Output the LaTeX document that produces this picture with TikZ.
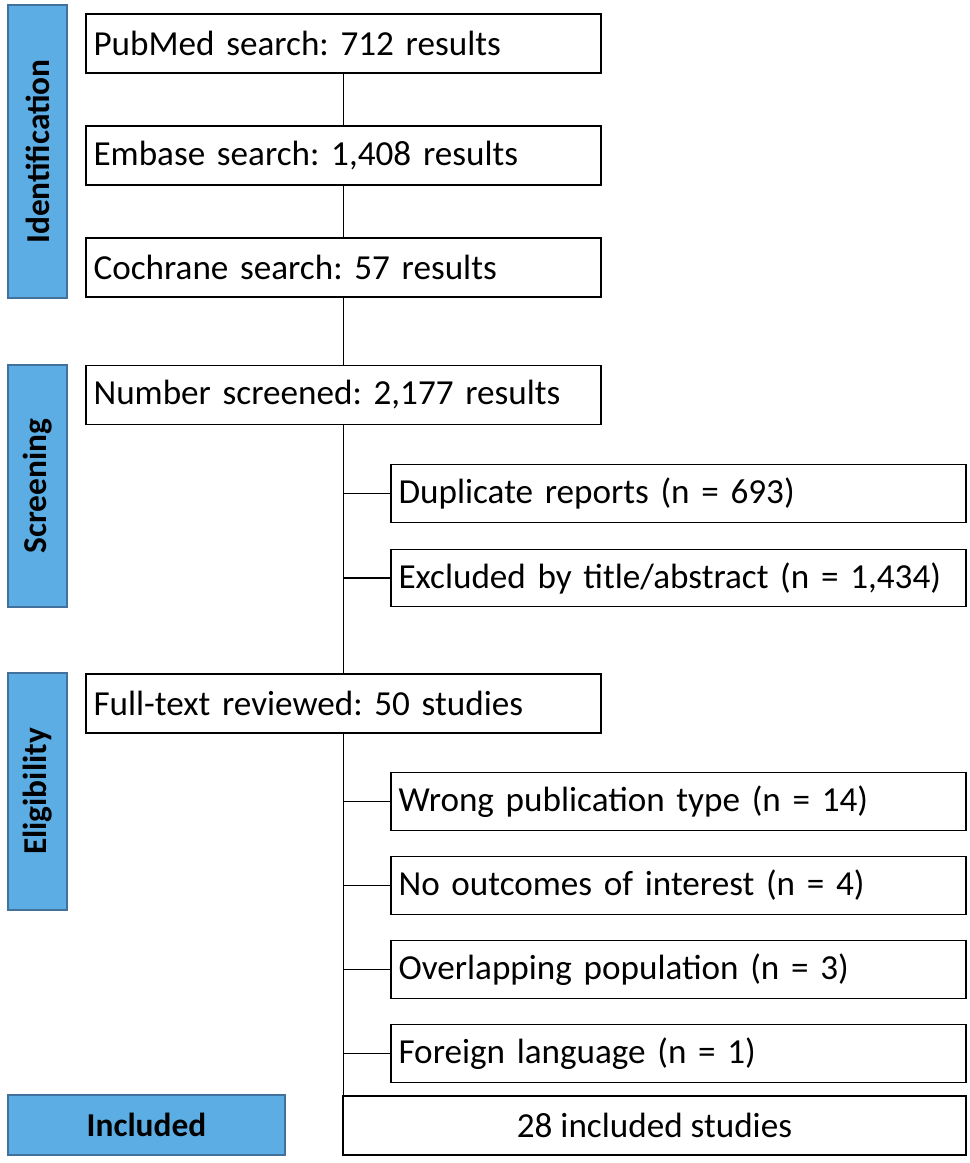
\documentclass[tikz,border=0pt]{standalone}
\usepackage{fontspec}
\setmainfont{Carlito}
\usetikzlibrary{positioning}
\definecolor{barfill}{RGB}{91,173,227}
\definecolor{bardraw}{RGB}{65,113,156}
\tikzset{
  mainbox/.style={draw,thick,minimum width=10.3cm,minimum height=1.18cm,text width=10cm,align=left,inner sep=0.15cm,font=\fontsize{20}{24}\selectfont},
  sidebox/.style={draw,thick,minimum width=11.5cm,minimum height=1.15cm,text width=11.2cm,align=left,inner sep=0.15cm,font=\fontsize{20}{24}\selectfont},
  stagebar/.style={draw=bardraw,thick,fill=barfill,font=\fontsize{19}{23}\selectfont\bfseries},
  link/.style={draw,thick,-}
}
\begin{document}
\frenchspacing
\begin{tikzpicture}[x=0.02cm,y=-0.02cm]
  \useasboundingbox (0,0) rectangle (970,1163);
  % stage bars
  \node[stagebar,minimum width=5.86cm,minimum height=1.18cm,rotate=90] (ident) at (37.5,151.5) {Identification};
  \node[stagebar,minimum width=4.84cm,minimum height=1.18cm,rotate=90] (screen) at (37.5,486) {Screening};
  \node[stagebar,minimum width=4.74cm,minimum height=1.18cm,rotate=90] (elig) at (37.5,791.5) {Eligibility};
  \node[stagebar,minimum width=5.54cm,minimum height=1.2cm] (incl) at (146.5,1125) {Included};
  % main column
  \node[mainbox] (pubmed) at (343.5,43.5) {PubMed search: 712 results};
  \node[mainbox] (embase) at (343.5,155.5) {Embase search: 1,408 results};
  \node[mainbox] (cochrane) at (343.5,267.5) {Cochrane search: 57 results};
  \node[mainbox] (screened) at (343.5,395) {Number screened: 2,177 results};
  \node[mainbox] (fulltext) at (343.5,703.5) {Full-text reviewed: 50 studies};
  % exclusions
  \node[sidebox] (dup) at (678.5,493.5) {Duplicate reports (n = 693)};
  \node[sidebox] (title) at (678.5,578) {Excluded by title/abstract (n = 1,434)};
  \node[sidebox] (wrong) at (678.5,801.5) {Wrong publication type (n = 14)};
  \node[sidebox] (outcome) at (678.5,885.5) {No outcomes of interest (n = 4)};
  \node[sidebox] (overlap) at (678.5,969.5) {Overlapping population (n = 3)};
  \node[sidebox] (foreign) at (678.5,1053.5) {Foreign language (n = 1)};
  \node[draw,thick,minimum width=12.46cm,minimum height=1.18cm,font=\fontsize{20}{24}\selectfont] (final) at (654.5,1125.5) {28 included studies};
  % connectors
  \draw[link] (pubmed) to (embase);
  \draw[link] (embase) to (cochrane);
  \draw[link] (cochrane) to (screened);
  \draw[link] (screened) to (fulltext);
  \draw[link] (fulltext.south) to (fulltext.south |- final.north);
  \foreach \b in {dup,title,wrong,outcome,overlap,foreign}
    \draw[link] (pubmed.south |- \b.west) to (\b.west);
\end{tikzpicture}
\end{document}
